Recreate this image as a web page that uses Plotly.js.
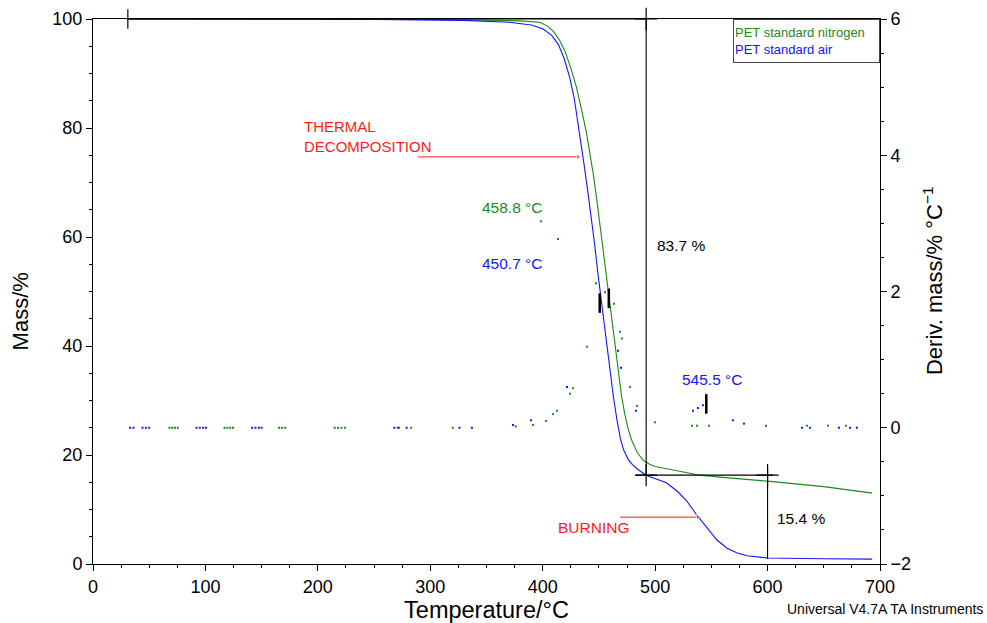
<!DOCTYPE html>
<html><head><meta charset="utf-8">
<script src="https://cdn.plot.ly/plotly-3.0.1.min.js"></script>
<style>html,body{margin:0;padding:0;background:#fff}#c{width:987px;height:623px}</style>
</head><body><div id="c"></div>
<script>
// Mass curves (Temperature °C, Mass %)
const n2T = [30,100,200,300,350,380,397.6,405,410,415,420,425,430,433,436,439,442,445,448,451,454,458,461,464,467,470,473,476,479,484,489,495,500,510,522,540,560,580,600,650,693];
const n2M = [100,100,99.95,99.9,99.8,99.65,99.4,98.6,97.6,96.1,94,91,87.5,85,82,79,75.5,71.5,67,62,57,50.3,45,40,35,31,27.5,24.8,22.8,20.5,19.1,18.3,17.9,17.5,16.9,16.3,15.9,15.6,15.2,14.2,13.0];
const airT = [30,150,250,330,370,390,400,408,414,419,424,428,431,434,437,440,443,446,449,451,454,457,460,463,466,469,472,476,480,485,492,500,510,520,528,537,546,555,564,573,582,600,650,693];
const airM = [100,100,99.9,99.75,99.4,98.9,98.2,97,95.3,92.8,89.3,85.5,81.5,77,73,68.5,64,59,53.5,50.3,45,40,35,30.5,26.5,23.1,20.9,19.2,18.2,17.3,16.3,15.7,14.9,13.3,11.6,9.0,6.8,4.4,2.9,2.0,1.5,1.1,0.95,0.9];

// Derivative curves, visible sample dots (Temperature °C, %/°C)
const dN2T = [68,70.5,73,75.5,117,119.5,122,124.5,165.5,168,171,215,218,221,224,271,283,320,376,391.4,398.5,403,409.1,412.7,413.6,424.3,427,439.4,447.4,455.4,463.4,468.7,470.5,477.6,483.9,499.9,532.8,537.2,547.9,598.6,635,653.7,669.7];
const dN2V = [0,0,0,0,0,0,0,0,0,0,0,0,0,0,0,0,0,0,0.02,0.04,3.03,0.10,0.20,0.25,2.77,0.50,0.58,1.19,2.12,1.99,1.82,1.41,1.31,0.60,0.32,0.08,0.03,0.03,0.03,0.03,0.03,0.03,0.03];
const dAirT = [33,36,44,47,50,92,95,98,100.5,141.5,144.5,147.5,150,268,272,279,326,337,373.6,389.6,421.6,467,469.6,483,533.7,538.1,542.5,569.2,579,630.6,637.7,663.5,673.3,679.5];
const dAirV = [0,0,0,0,0,0,0,0,0,0,0,0,0,0,0,0,0,0,0.04,0.11,0.60,1.13,0.88,0.25,0.25,0.29,0.33,0.11,0.06,0,0,0,0,0];

// Peak markers on derivative
const peakT = [458.8, 450.7, 545.5];
const peakD = [1.9, 1.83, 0.35];
const peakLabels = ['458.8 °C', '450.7 °C', '545.5 °C'];

// Step analysis
const stepLineT = [31,492,492,null,483,605,null,600,600];
const stepLineM = [100,100,16.3,null,16.3,16.3,null,17.6,0.9];
const crossT = [492,492,600];
const crossM = [100,16.3,16.3];
const stepLabels = ['83.7 %','15.4 %'];

// Annotation arrows (tail -> head)
const arrow1T = [289, 431.5];
const arrow1M = [74.7, 74.7];
const arrow2T = [468.7, 538];
const arrow2M = [8.6, 8.6];

const GREEN = '#1a8a1a', BLUE = '#1414ff', RED = '#ff1a1a';
const FONT = 'Liberation Sans, Arial, Helvetica, sans-serif';
const LBL = 15.5;

const traces = [
  {x:n2T, y:n2M, type:'scatter', mode:'lines', line:{color:GREEN, width:1.1}},
  {x:airT, y:airM, type:'scatter', mode:'lines', line:{color:BLUE, width:1.1}},
  {x:dN2T, y:dN2V, yaxis:'y2', type:'scatter', mode:'markers', marker:{color:GREEN, size:2, symbol:'square'}},
  {x:dAirT, y:dAirV, yaxis:'y2', type:'scatter', mode:'markers', marker:{color:BLUE, size:2, symbol:'square'}},
  {x:peakT, y:peakD, yaxis:'y2', type:'scatter', mode:'markers', marker:{symbol:'line-ns', size:14, line:{color:'#000', width:2.5}}},
  {x:stepLineT, y:stepLineM, type:'scatter', mode:'lines', line:{color:'#000', width:1.1}, connectgaps:false},
  {x:crossT, y:crossM, type:'scatter', mode:'markers', cliponaxis:false, marker:{symbol:'cross-thin', size:16, line:{color:'#000', width:1.2}}},
  {x:[31], y:[100], type:'scatter', mode:'markers', cliponaxis:false, marker:{symbol:'line-ns', size:14, line:{color:'#000', width:1.2}}},
  {x:arrow1T, y:arrow1M, type:'scatter', mode:'lines+markers', line:{color:RED, width:1},
   marker:{symbol:['circle','triangle-right'], size:[0,5], color:RED}},
  {x:arrow2T, y:arrow2M, type:'scatter', mode:'lines+markers', line:{color:RED, width:1},
   marker:{symbol:['circle','triangle-right'], size:[0,5], color:RED}}
];

const ann = [
  {x:402, y:65.5, xref:'x', yref:'y', text:peakLabels[0], showarrow:false, xanchor:'right', font:{color:GREEN, size:LBL, family:FONT}},
  {x:402, y:55.2, xref:'x', yref:'y', text:peakLabels[1], showarrow:false, xanchor:'right', font:{color:BLUE, size:LBL, family:FONT}},
  {x:550.6, y:33.9, xref:'x', yref:'y', text:peakLabels[2], showarrow:false, font:{color:BLUE, size:LBL, family:FONT}},
  {x:500, y:58.5, xref:'x', yref:'y', text:stepLabels[0], showarrow:false, xanchor:'left', font:{color:'#000', size:LBL, family:FONT}},
  {x:607, y:8.4, xref:'x', yref:'y', text:stepLabels[1], showarrow:false, xanchor:'left', font:{color:'#000', size:LBL, family:FONT}},
  {x:187, y:78.35, xref:'x', yref:'y', text:'THERMAL<br>DECOMPOSITION', showarrow:false, xanchor:'left', yanchor:'middle', align:'left', borderpad:0, font:{color:RED, size:15, family:FONT}},
  {x:412, y:6.7, xref:'x', yref:'y', text:'BURNING', showarrow:false, xanchor:'left', font:{color:RED, size:LBL, family:FONT}},
  {x:1, y:1, xref:'paper', yref:'paper', xanchor:'right', yanchor:'top', showarrow:false, align:'left', width:143, height:40,
   bordercolor:'#444', borderwidth:1, borderpad:1, bgcolor:'#fff',
   text:'<span style="color:'+GREEN+'">PET standard nitrogen</span><br><span style="color:'+BLUE+'">PET standard air</span>',
   font:{size:13, family:FONT}},
  {x:1.1334, y:-0.0826, xref:'paper', yref:'paper', xanchor:'right', yanchor:'middle', text:'Universal V4.7A TA Instruments', showarrow:false, font:{size:14, family:FONT, color:'#000'}},
  {x:-0.0924, y:0.464, xref:'paper', yref:'paper', xanchor:'center', yanchor:'middle', textangle:-90, text:'Mass/%', showarrow:false, font:{size:22, family:FONT, color:'#000'}},
  {x:1.0673, y:0.521, xref:'paper', yref:'paper', xanchor:'center', yanchor:'middle', textangle:-90, text:'Deriv. mass/% °C<sup>−1</sup>', showarrow:false, font:{size:22, family:FONT, color:'#000'}}
];

const axCommon = {showgrid:false, zeroline:false, linecolor:'#000', linewidth:1, ticks:'outside', tickcolor:'#000', ticklen:6, tickwidth:1,
  tickfont:{size:18, family:FONT, color:'#000'}};

const layout = {
  width:987, height:623,
  margin:{l:93, r:107, t:19, b:59},
  paper_bgcolor:'#fff', plot_bgcolor:'#fff',
  showlegend:false,
  font:{family:FONT, color:'#000'},
  xaxis:Object.assign({}, axCommon, {range:[0,700], dtick:100, tick0:0, mirror:true,
    minor:{dtick:25, ticklen:3, tickcolor:'#000', ticks:'outside'},
    title:{text:'Temperature/°C', font:{size:23.5, family:FONT, color:'#000'}, standoff:4}}),
  yaxis:Object.assign({}, axCommon, {range:[0,100], dtick:20, tick0:0,
    minor:{dtick:5, ticklen:3, tickcolor:'#000', ticks:'outside'}}),
  yaxis2:Object.assign({}, axCommon, {range:[-2,6], dtick:2, tick0:0, overlaying:'y', side:'right',
    minor:{dtick:0.5, ticklen:3, tickcolor:'#000', ticks:'outside'}}),
  annotations:ann
};

Plotly.newPlot('c', traces, layout, {displayModeBar:false, staticPlot:true});
</script>
</body></html>
